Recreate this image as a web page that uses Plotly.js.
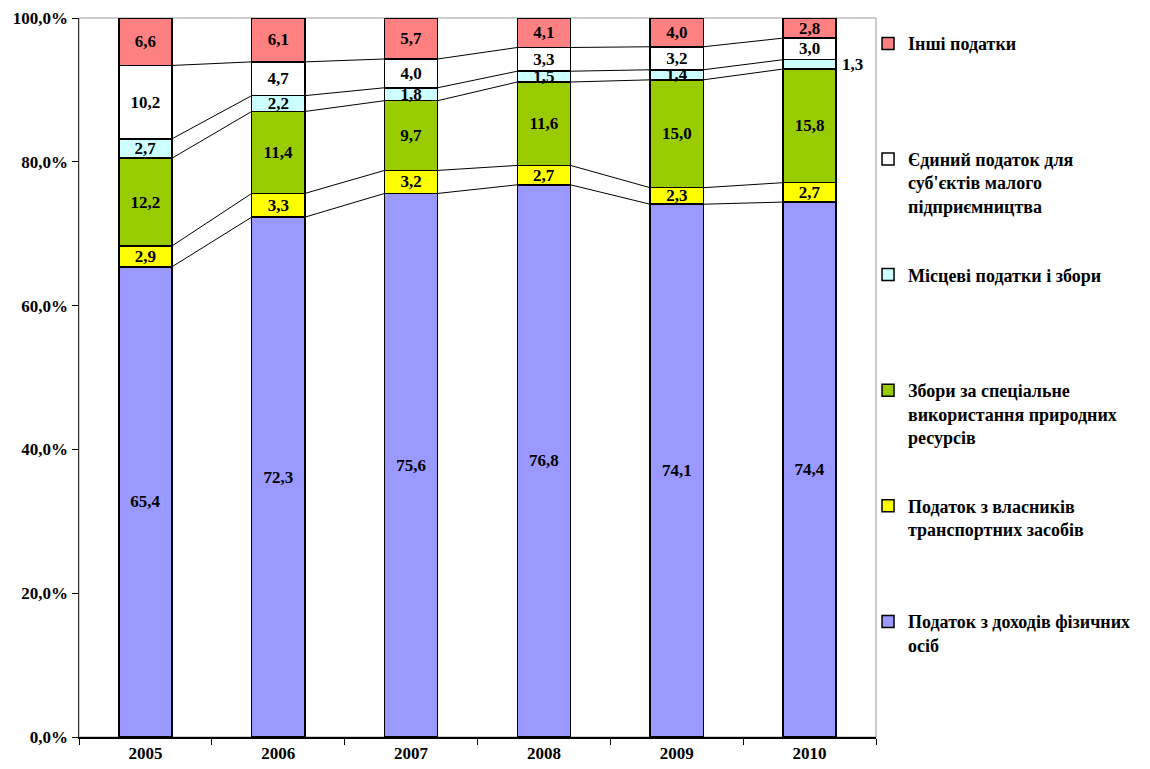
<!DOCTYPE html>
<html>
<head>
<meta charset="utf-8">
<script src="https://cdn.plot.ly/plotly-3.0.1.min.js"></script>
<style>html,body{margin:0;padding:0;background:#fff;}#chart{width:1150px;height:769px;}</style>
</head>
<body>
<div id="chart"></div>
<script>
const years = ['2005', '2006', '2007', '2008', '2009', '2010'];
const seriesNames = [
  'Податок з доходів фізичних<br>осіб',
  'Податок з власників<br>транспортних засобів',
  'Збори за спеціальне<br>використання природних<br>ресурсів',
  'Місцеві податки і збори',
  'Єдиний податок для<br>суб\'єктів малого<br>підприємництва',
  'Інші податки'
];
const pdfo      = [65.4, 72.3, 75.6, 76.8, 74.1, 74.4];
const transport = [2.9, 3.3, 3.2, 2.7, 2.3, 2.7];
const pryroda   = [12.2, 11.4, 9.7, 11.6, 15.0, 15.8];
const mistsevi  = [2.7, 2.2, 1.8, 1.5, 1.4, 1.3];
const yedynyi   = [10.2, 4.7, 4.0, 3.3, 3.2, 3.0];
const inshi     = [6.6, 6.1, 5.7, 4.1, 4.0, 2.8];
const yTicks    = [0, 20, 40, 60, 80, 100];

const series = [pdfo, transport, pryroda, mistsevi, yedynyi, inshi];
const colors = ['#9999FF', '#FFFF00', '#99CC00', '#CCFFFF', '#FFFFFF', '#FF8080'];
const FONT = 'Liberation Serif, Times New Roman, serif';
const xs = years.map((_, i) => i);
const halfW = 0.2;
const fmt = v => v.toFixed(1).replace('.', ',');

// pad legend labels to equal number of lines so slots are evenly spaced
function padLines(s, n) {
  const k = s.split('<br>').length;
  let out = s;
  for (let i = k; i < n; i++) out += '<br> ';
  return out;
}

const traces = [];
series.forEach((vals, si) => {
  const txt = vals.map((v, i) => (si === 3 && i === 5) ? '' : fmt(v));
  traces.push({
    type: 'bar', x: xs, y: vals, name: padLines(seriesNames[si], 4),
    legendgroup: 'g' + si, legendrank: series.length - si,
    marker: {color: colors[si], line: {color: '#000', width: 1.5}},
    text: txt, textposition: 'inside', insidetextanchor: 'middle',
    constraintext: 'none', cliponaxis: false,
    textfont: {family: FONT, size: 17, color: '#000', weight: 'bold'},
    hoverinfo: 'skip'
  });
});

// series lines between bars (cumulative tops)
const cum = years.map(() => 0);
const cumTops = [];
series.forEach(vals => {
  vals.forEach((v, i) => cum[i] += v);
  cumTops.push(cum.slice());
});
for (let si = 0; si < series.length - 1; si++) {
  const lx = [], ly = [];
  for (let i = 0; i < years.length - 1; i++) {
    lx.push(i + halfW, i + 1 - halfW, null);
    ly.push(cumTops[si][i], cumTops[si][i + 1], null);
  }
  traces.push({
    type: 'scatter', mode: 'lines', x: lx, y: ly, showlegend: false,
    line: {color: '#000', width: 1}, hoverinfo: 'skip'
  });
}

// outside label for the thin 2010 local-tax segment
const last = years.length - 1;
const annY = cumTops[2][last] + mistsevi[last] / 2;

const layout = {
  width: 1150, height: 769,
  margin: {l: 79, r: 274, t: 18, b: 32},
  paper_bgcolor: '#fff', plot_bgcolor: '#fff',
  font: {family: FONT, size: 17, color: '#000', weight: 'bold'},
  separators: ', ',
  barmode: 'stack', bargap: 0.6,
  showlegend: true,
  legend: {
    x: 0.99, xanchor: 'left', y: 0.99, yanchor: 'top',
    traceorder: 'grouped', tracegroupgap: 19, valign: 'top',
    font: {family: FONT, size: 18, color: '#000', weight: 'bold'},
    bgcolor: 'rgba(0,0,0,0)'
  },
  xaxis: {
    range: [-0.5, 5.5], tickmode: 'array', tickvals: xs, ticktext: years,
    ticks: '', showgrid: false, zeroline: false,
    showline: true, linecolor: '#000', linewidth: 1.5,
    minor: {tick0: 0.5, dtick: 1, ticks: 'outside', ticklen: 6, tickcolor: '#000', tickwidth: 1, showgrid: false},
    tickfont: {family: FONT, size: 17, color: '#000', weight: 'bold'},
    fixedrange: true
  },
  yaxis: {
    range: [0, 100.001], tickmode: 'array', tickvals: yTicks,
    ticktext: yTicks.map(v => fmt(v) + '%'),
    ticks: 'outside', ticklen: 6, tickcolor: '#000', tickwidth: 1,
    showgrid: false, zeroline: false,
    showline: true, linecolor: '#333', linewidth: 1.5,
    tickfont: {family: FONT, size: 17, color: '#000', weight: 'bold'},
    fixedrange: true
  },
  shapes: [{
    type: 'rect', xref: 'paper', yref: 'paper', x0: 0, x1: 1, y0: 0, y1: 1,
    line: {color: '#999', width: 1}, layer: 'below'
  }],
  annotations: [{
    x: last + halfW, y: annY, xref: 'x', yref: 'y', xanchor: 'left', yanchor: 'middle',
    xshift: 4, text: fmt(mistsevi[last]), showarrow: false,
    font: {family: FONT, size: 17, color: '#000', weight: 'bold'}
  }]
};

Plotly.newPlot('chart', traces, layout, {displayModeBar: false, staticPlot: true});
</script>
</body>
</html>
